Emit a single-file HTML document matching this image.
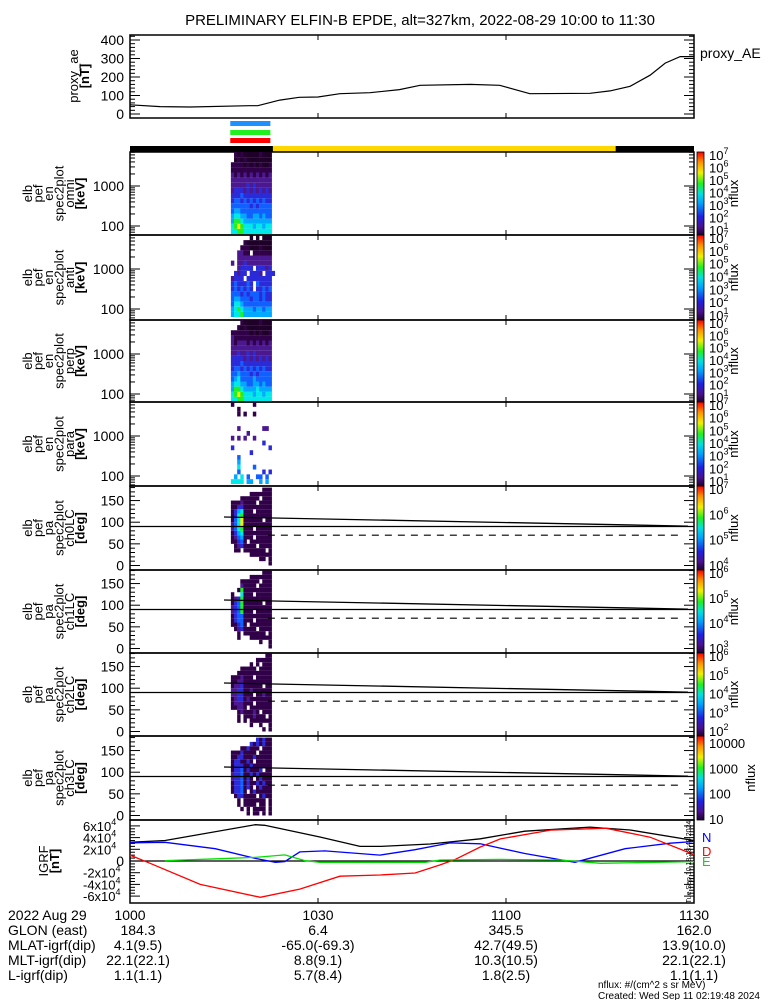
<!DOCTYPE html>
<html><head><meta charset="utf-8"><style>
html,body{margin:0;padding:0;background:#fff;}
svg{display:block;font-family:"Liberation Sans",sans-serif;}
text{fill:#000;}
</style></head><body>
<svg id="chart" width="775" height="1000" viewBox="0 0 775 1000" xmlns="http://www.w3.org/2000/svg">
<text x="420" y="25" text-anchor="middle" font-size="15">PRELIMINARY ELFIN-B EPDE, alt=327km, 2022-08-29 10:00 to 11:30</text>
<g id="g"></g>
</svg>
<script>
// ---- data ----
const aeTimes = [0,4.8,9.6,19,20.4,23.9,27,30,33.5,38.3,43,46.3,54.3,59,63.8,73.4,76.6,79.8,83,85.4,87.8,90];
const aeValues = [50,40,38,45,45,75,90,92,110,115,132,155,160,155,110,112,125,150,210,275,310,310];
const aeTicks = [0,100,200,300,400];
const xTickLabels = ['1000','1030','1100','1130'];
const xTickMinutes = [0,30,60,90];
const specStart = 16.1; // minutes
const specStep = 0.5;
const omniRows = ["6677666666666","6787666566566","5776555555555","5665544554544","4554444444444","4444443434444","3443434343433","3334333333333","2333232323232","2222232322222","2222222222222","2121212121212","1111111111111","1111010101001",".010100000000",".101000001000"];
const antiRows = ["5667555555555","5676555455455","4665444444444","4554443443433","4443434443433","3434343.33434","3433343.43333","2333.33333333",".3233.3332.333","..23333.33323","2.22322222222","..22222222222","..2211.111111","...1110001000","....100000000","......0.0.000"];
const perpRows = ["6677666666666","6787666566566","5776555565555","5665544554544","4564444544444","4454443434444","3443434343433","3334333333333","3333232323232","2232232322222","2222222222222","2122212121212","2111111111111","1111110101001","..10100000000","...1000001000"];
const paraRows = ["6666.55..5.5.",".5.6.4..44.4.","..4.......3.3","..6....4.....","..5..........","..4..........","......3......","3...........3","..........3..","2.2.2..2.....",".....2.......","..2.......22.","............",".............","..1.1..1.....","..1..........","1......1....."];
const pa0Rows = ["............1",".........11.1","......1111111",".11.1111111.1",".1231111.1111","11341.1111111","1245111.11111","1356111111111","2467111.11111","2468111111111","1468111111.11","1367111111111","1356111.11111","1133111111111","11121111.1111","...111111.111","......1111111","..........111"];
const pa1Rows = ["............1",".........1..1","..1...1111111","..1.1111111.1",".1231111.1111","11341.1111111","1344111.11111","1344111111111","2347111.11111","2347111111111","1347111111.11","1237111111111","1..6111.11111","..17111111111","...21111.1111","...111111.111","......1111111","..........111"];
const pa2Rows = ["..........1.1","......1..1..1","..1.1.1111111","..1.1112111.1","..1211121.111","11221.1111111","1222111.11111","1233121111111","2233111.11211","2233112111111","1223111111.11","1122111111111","1112111.11111","..11111111111","...11111.1111","......1.1.111","........11111","...........11"];
const pa3Rows = [".....1.11.1.1","...1.1.1111.1","..1.1111.11.1","..1.1111111.1",".1331111.1311","13341.1311111","1334131.13111","1334131131311","2334131.13111","2334113131111","1334131113.11","1333113111111","1331131.11111","1133111311111","11131111.1111","...113111.111","......3131311","........31311"];
const cbOmni = [7,6,5,4,3,2,1];
const cbPa0 = [7,6,5,4];
const cbPa1 = [6,5,4,3];
const cbPa2 = [6,5,4,3,2];
const cbPa3 = ['10000','1000','100','10'];
const igrfBlackT = [0,5.6,20,21.5,30.3,36.7,39.9,47.9,55.9,63,73.4,79.8,90];
const igrfBlackV = [3.2,3.5,6.2,6.1,4.1,2.5,2.5,2.9,3.8,5.1,5.8,5.3,3.5];
const igrfNT = [0,5.6,13.6,20,23.2,24.7,27.1,31.1,39.9,45.5,51.1,55.9,63,71,79,86.2,90];
const igrfNV = [3.1,3.2,2.1,0.44,-0.22,-0.11,1.55,1.72,1.0,1.94,3.1,2.94,1.28,-0.22,2.1,3.05,3.33];
const igrfDT = [0,3.2,11.2,20.8,27.1,33.5,39.9,45.5,49.5,51.9,55.9,59.1,67.1,75.9,83,90];
const igrfDV = [1.0,-0.39,-4.0,-6.2,-4.8,-2.6,-2.4,-2.05,-0.67,0.28,2.39,3.78,5.28,5.61,4.06,1.1];
const igrfET = [5.6,14.4,20,24.7,27.9,30.3,47.1,49.5,59.1,68.7,75.1,90];
const igrfEV = [0.06,0.39,0.61,1.05,0.06,-0.22,-0.22,0.17,0.28,0.17,-0.39,-0.11];
const bottomRowLabels = ['2022 Aug 29','GLON (east)','MLAT-igrf(dip)','MLT-igrf(dip)','L-igrf(dip)'];
const glon = ['184.3','6.4','345.5','162.0'];
const mlat = ['4.1(9.5)','-65.0(-69.3)','42.7(49.5)','13.9(10.0)'];
const mlt = ['22.1(22.1)','8.8(9.1)','10.3(10.5)','22.1(22.1)'];
const lval = ['1.1(1.1)','5.7(8.4)','1.8(2.5)','1.1(1.1)'];

// ---- helpers ----
const NS='http://www.w3.org/2000/svg';
const G=document.getElementById('g');
const X0=130,X1=694;
const xs=m=>X0+(m/90)*(X1-X0);
function el(tag,attrs,parent){const e=document.createElementNS(NS,tag);for(const k in attrs)e.setAttribute(k,attrs[k]);(parent||G).appendChild(e);return e;}
function txt(x,y,s,size,anchor,parent){const t=el('text',{x:x,y:y,'font-size':size||13,'text-anchor':anchor||'start'},parent);t.textContent=s;return t;}
const levelColors=['#1e0028','#300048','#4b1890','#2a2ad8','#1060ff','#00a8ff','#00e8e8','#20f020','#f0f000','#ff6000'];

const defs=el('defs',{});
const lg=el('linearGradient',{id:'rb',x1:0,y1:1,x2:0,y2:0},defs);
[['0','#200030'],['0.1','#4a1090'],['0.22','#2020e0'],['0.38','#00a0ff'],['0.5','#00e0e0'],['0.62','#20f020'],['0.75','#f0f000'],['0.88','#ff9000'],['1','#ff0000']].forEach(s=>el('stop',{offset:s[0],'stop-color':s[1]},lg));

function frame(y0,y1,name){
  const r=el('rect',{x:X0,y:y0,width:X1-X0,height:y1-y0,fill:'none',stroke:'#000','stroke-width':1.5});
  
  
  [30,60].forEach(m=>{el('line',{x1:xs(m),x2:xs(m),y1:y0,y2:y0+5,stroke:'#000'});el('line',{x1:xs(m),x2:xs(m),y1:y1,y2:y1-5,stroke:'#000'});});
}
function tick(y,len){el('line',{x1:X0,x2:X0+len,y1:y,y2:y,stroke:'#000'});el('line',{x1:X1,x2:X1-len,y1:y,y2:y,stroke:'#000'});}
function ylabel(lines,yc,x0,name,step){
  const g=el('g',{});
  
  
  lines.forEach((s,i)=>{const x=x0+i*(step||10.5);const t=txt(x,yc,s,13,'middle',g);t.setAttribute('transform','rotate(-90 '+x+' '+yc+')');if(s.startsWith('['))t.setAttribute('font-weight','bold');});
}
function supLabel(x,y,base,exp,parent,size){
  const t=el('text',{x:x,y:y,'font-size':size||13},parent);t.textContent=base;
  if(exp!==undefined){const ts=el('tspan',{dy:-6,'font-size':9},t);ts.textContent=exp;}
  return t;
}

// ---- top proxy_ae panel ----
const aeY=v=>114-v*0.185;
frame(35,118,'proxy-ae-panel');
for(let v=0;v<=420;v+=20){if(aeY(v)>35)tick(aeY(v),v%100===0?10:5);}
aeTicks.forEach(v=>{const t=txt(124,aeY(v)+5,String(v),14,'end');});
ylabel(['proxy_ae','[nT]'],76,78,'ae-y-axis-title',11);
let d='';aeTimes.forEach((m,i)=>{d+=(i?'L':'M')+xs(m).toFixed(1)+' '+aeY(aeValues[i]).toFixed(1);});
const ael=el('path',{d:d,fill:'none',stroke:'#000','stroke-width':1.2});


const aeLab=txt(700,58,'proxy_AE',14);



[['#1e90ff',121],['#20f020',130],['#ff0000',138]].forEach((b,i)=>{const r=el('rect',{x:xs(16),y:b[1],width:xs(22.4)-xs(16),height:5,fill:b[0]});});
const sb1=el('rect',{x:X0,y:146,width:X1-X0,height:6,fill:'#000'});


const sb2=el('rect',{x:xs(22.8),y:146,width:xs(77.5)-xs(22.8),height:6,fill:'#ffd700'});



// ---- spectrogram panels ----
function colorbar(y0,y1,labels,ylabelPos,name){
  const r=el('rect',{x:697,y:y0,width:7,height:y1-y0,fill:'url(#rb)',stroke:'#000','stroke-width':0.8});
  
  
  const n=labels.length;
  labels.forEach((l,i)=>{const y=y0+8+i*((y1-y0-8)/(n-1||1));
    let t; if(typeof l==='number')t=supLabel(709,y,'10',String(l));else t=txt(709,y+4,l,13);
    });
  const yc=(y0+y1)/2;const t=txt(ylabelPos,yc,'nflux',13,'middle');t.setAttribute('transform','rotate(-90 '+ylabelPos+' '+yc+')');
}
function enPanel(y0,y1,rows,lab,name){
  frame(y0,y1,name);
  const ey=e=>y0+34-(Math.log10(e)-3)*40;
  for(let dec=10;dec<=10000;dec*=10)for(let k=1;k<10;k++){const y=ey(dec*k);if(y>y0&&y<y1)tick(y,k===1?10:5);}
  [100,1000].forEach(v=>{const t=txt(124,ey(v)+5,String(v),14,'end');});
  const nb=rows.length;const lo=1.8,hi=3.85,bw=(hi-lo)/nb;
  rows.forEach((row,ri)=>{for(let c=0;c<row.length;c++){const ch=row[c];if(ch==='.')continue;
    const ya=ey(Math.pow(10,lo+(ri+1)*bw)),yb=ey(Math.pow(10,lo+ri*bw));
    const r=el('rect',{x:xs(specStart+c*specStep),y:Math.max(ya,y0),width:xs(specStep)-X0+0.3,height:Math.min(yb,y1)-Math.max(ya,y0),fill:levelColors[+ch]});
    
    }});
  ylabel(['elb','pef','en','spec2plot',lab,'[keV]'],(y0+y1)/2,32,name+'-y-title');
}
function paPanel(y0,y1,rows,lab,name){
  frame(y0,y1,name);
  const py=p=>y1-4.5-p*0.433;
  for(let p=0;p<=180;p+=10)tick(py(p),p%50===0?10:5);
  [0,50,100,150].forEach(v=>{const t=txt(124,py(v)+5,String(v),14,'end');});
  rows.forEach((row,ri)=>{for(let c=0;c<row.length;c++){const ch=row[c];if(ch==='.')continue;
    const r=el('rect',{x:xs(specStart+c*specStep),y:py((ri+1)*10),width:xs(specStep)-X0+0.3,height:4.33,fill:levelColors[+ch]});
    
    }});
  const l90=el('line',{x1:X0,x2:X1,y1:py(90),y2:py(90),stroke:'#000','stroke-width':1.3});
  
  const lc=el('line',{x1:xs(15),x2:X1-6,y1:py(112),y2:py(91),stroke:'#000','stroke-width':1.3});
  
  const ac=el('line',{x1:xs(22),x2:X1-12,y1:py(70),y2:py(70),stroke:'#000','stroke-width':1.1,'stroke-dasharray':'7,6'});
  
  ylabel(['elb','pef','pa','spec2plot',lab,'[deg]'],(y0+y1)/2,32,name+'-y-title');
}
enPanel(152,235,omniRows,'omni','omni-spectrogram');colorbar(152,235,cbOmni,738,'omni-colorbar');
enPanel(235,320,antiRows,'anti','anti-spectrogram');colorbar(235,320,cbOmni,738,'anti-colorbar');
enPanel(320,402,perpRows,'perp','perp-spectrogram');colorbar(320,402,cbOmni,738,'perp-colorbar');
enPanel(402,486,paraRows,'para','para-spectrogram');colorbar(402,486,cbOmni,738,'para-colorbar');
paPanel(486,570,pa0Rows,'ch0LC','pa-ch0-spectrogram');colorbar(486,570,cbPa0,738,'pa-ch0-colorbar');
paPanel(570,653,pa1Rows,'ch1LC','pa-ch1-spectrogram');colorbar(570,653,cbPa1,738,'pa-ch1-colorbar');
paPanel(653,736,pa2Rows,'ch2LC','pa-ch2-spectrogram');colorbar(653,736,cbPa2,738,'pa-ch2-colorbar');
paPanel(736,820,pa3Rows,'ch3LC','pa-ch3-spectrogram');colorbar(736,820,cbPa3,755,'pa-ch3-colorbar');

// ---- IGRF panel ----
frame(820,903,'igrf-panel');
const iy=v=>861-v*5.85;
for(let v=-6;v<=6;v+=0.5)tick(iy(v),v%2===0?10:5);
[6,4,2,-2,-4,-6].forEach(v=>{const t=supLabel(83,iy(v)+5,(v)+'x10','4');});
txt(124,iy(0)+5,'0',14,'end');
ylabel(['IGRF','[nT]'],861,48,'igrf-y-title',11);
el('line',{x1:X0,x2:X1,y1:iy(0),y2:iy(0),stroke:'#000','stroke-width':1.3});
function series(T,V,color,name){let p='';T.forEach((m,i)=>{p+=(i?'L':'M')+xs(m).toFixed(1)+' '+iy(V[i]).toFixed(1);});
  const e=el('path',{d:p,fill:'none',stroke:color,'stroke-width':1.3});
  
  }
series(igrfBlackT,igrfBlackV,'#000','igrf-total-line');
series(igrfNT,igrfNV,'#0000ff','igrf-n-line');
series(igrfDT,igrfDV,'#ff0000','igrf-d-line');
series(igrfET,igrfEV,'#00e000','igrf-e-line');
[['N','#0000ff',842],['D','#ff0000',856],['E','#00e000',866]].forEach(l=>{const t=txt(702,l[2],l[0],13);t.setAttribute('style','fill:'+l[1]);});
const stamp=txt(691,862,'Tue Sep 10 18:18:48 2024',7,'middle');stamp.setAttribute('transform','rotate(-90 691 862)');

// ---- bottom labels ----
const rowY=[920,935,950,965,980];
bottomRowLabels.forEach((s,i)=>{const t=txt(8,rowY[i],s,14);});
[xTickLabels,glon,mlat,mlt,lval].forEach((arr,ri)=>arr.forEach((s,i)=>{const x=xs(xTickMinutes[i])+(i===0&&ri>0?8:0);const t=txt(x,rowY[ri],s,14,'middle');}));
txt(598,988,'nflux: #/(cm^2 s sr MeV)',10);
txt(598,999,'Created: Wed Sep 11 02:19:48 2024',10);
</script>
</body></html>
